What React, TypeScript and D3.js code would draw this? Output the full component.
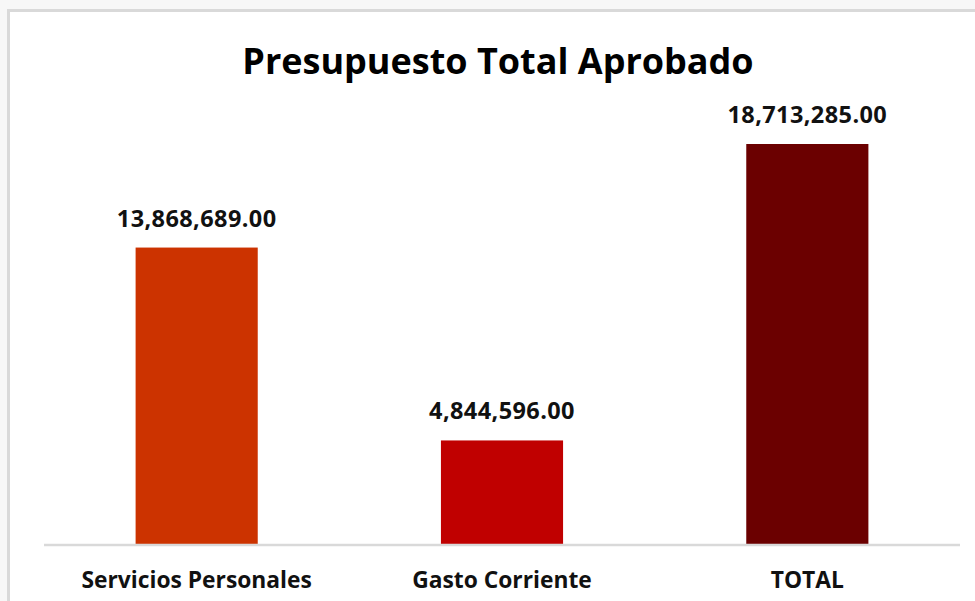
import React from "react";
import * as d3 from "d3";

const categories = ["Servicios Personales", "Gasto Corriente", "TOTAL"];
const values = [13868689, 4844596, 18713285];
const colors = ["#CC3300", "#C00000", "#6B0000"];
const title = "Presupuesto Total Aprobado";

const W = 975;
const H = 601;

export default function App() {
  const x = d3.scaleBand<string>().domain(categories).range([44, 960]).paddingInner(0.6).paddingOuter(0.3);
  const y = d3.scaleLinear().domain([0, 20000000]).range([544, 116.5]);
  const fmt = d3.format(",.2f");
  const font = "'Open Sans', Lato, sans-serif";
  return (
    <svg width={W} height={H} style={{ position: "absolute", left: 0, top: 0 }} fontFamily={font}>
      <rect x={0} y={0} width={W} height={H} fill="#f7f7f7" />
      <rect x={8.5} y={10.5} width={W + 20} height={H + 20} fill="#ffffff" stroke="#d9d9d9" strokeWidth={3} />
      <text x={498} y={74} textAnchor="middle" fontSize={36} fontWeight={700} fill="#000">
        {title}
      </text>
      {categories.map((c, i) => (
        <g key={c}>
          <rect x={x(c)} y={y(values[i])} width={x.bandwidth()} height={y(0) - y(values[i])} fill={colors[i]} />
          <text x={(x(c) as number) + x.bandwidth() / 2} y={y(values[i]) - 21} textAnchor="middle" fontSize={23.5} fontWeight={700} fill="#111" letterSpacing={0.4}>
            {fmt(values[i])}
          </text>
          <text x={(x(c) as number) + x.bandwidth() / 2} y={588} textAnchor="middle" fontSize={22.8} fontWeight={700} fill="#111">
            {c}
          </text>
        </g>
      ))}
      <line x1={44} x2={960} y1={545} y2={545} stroke="#d9d9d9" strokeWidth={2.5} />
    </svg>
  );
}
